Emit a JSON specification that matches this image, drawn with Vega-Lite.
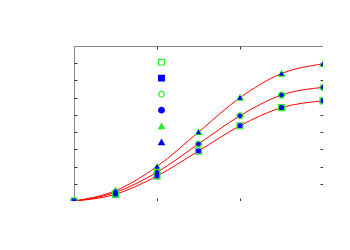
{
  "$schema": "https://vega.github.io/schema/vega-lite/v6.json",
  "autosize": "none",
  "padding": {"left": 74, "top": 46, "right": 0, "bottom": 0},
  "width": 249,
  "height": 155,
  "background": "white",
  "config": {
    "view": {"stroke": "#888888", "strokeWidth": 1},
    "axis": {"labels": false, "title": null, "domain": false, "grid": false, "tickSize": -3, "tickColor": "#333333", "tickWidth": 1}
  },
  "data": {
    "values": [
      {"s": "A", "x": 0, "v": 0}, {"s": "A", "x": 1, "v": 0.39}, {"s": "A", "x": 2, "v": 1.45}, {"s": "A", "x": 3, "v": 2.9}, {"s": "A", "x": 4, "v": 4.37}, {"s": "A", "x": 5, "v": 5.42}, {"s": "A", "x": 6, "v": 5.81},
      {"s": "C", "x": 0, "v": 0}, {"s": "C", "x": 1, "v": 0.5}, {"s": "C", "x": 2, "v": 1.67}, {"s": "C", "x": 3, "v": 3.31}, {"s": "C", "x": 4, "v": 4.95}, {"s": "C", "x": 5, "v": 6.15}, {"s": "C", "x": 6, "v": 6.6},
      {"s": "E", "x": 0, "v": 0}, {"s": "E", "x": 1, "v": 0.6}, {"s": "E", "x": 2, "v": 2.0}, {"s": "E", "x": 3, "v": 4.0}, {"s": "E", "x": 4, "v": 6.0}, {"s": "E", "x": 5, "v": 7.4}, {"s": "E", "x": 6, "v": 7.96},
      {"s": "B", "x": 0, "v": 0}, {"s": "B", "x": 1, "v": 0.39}, {"s": "B", "x": 2, "v": 1.45}, {"s": "B", "x": 3, "v": 2.9}, {"s": "B", "x": 4, "v": 4.37}, {"s": "B", "x": 5, "v": 5.42}, {"s": "B", "x": 6, "v": 5.81},
      {"s": "D", "x": 0, "v": 0}, {"s": "D", "x": 1, "v": 0.5}, {"s": "D", "x": 2, "v": 1.67}, {"s": "D", "x": 3, "v": 3.31}, {"s": "D", "x": 4, "v": 4.95}, {"s": "D", "x": 5, "v": 6.15}, {"s": "D", "x": 6, "v": 6.6},
      {"s": "F", "x": 0, "v": 0}, {"s": "F", "x": 1, "v": 0.6}, {"s": "F", "x": 2, "v": 2.0}, {"s": "F", "x": 3, "v": 4.0}, {"s": "F", "x": 4, "v": 6.0}, {"s": "F", "x": 5, "v": 7.4}, {"s": "F", "x": 6, "v": 7.96}
    ]
  },
  "resolve": {"axis": {"x": "independent", "y": "independent"}},
  "encoding": {
    "shape": {"field": "s", "type": "nominal", "scale": {"domain": ["A", "B", "C", "D", "E", "F"], "range": ["square", "square", "circle", "circle", "triangle-up", "triangle-up"]},
      "legend": {"orient": "none", "legendX": 82.5, "legendY": 8.5, "title": null, "labelExpr": "''", "padding": 0, "clipHeight": 15.3, "rowPadding": 0, "symbolStrokeWidth": 1.2, "symbolSize": 32, "symbolOpacity": 1}},
    "stroke": {"field": "s", "type": "nominal", "scale": {"domain": ["A", "B", "C", "D", "E", "F"], "range": ["#22ee22", "#0000ff", "#22ee22", "#0000ff", "#22ee22", "#0000ff"]},
      "legend": {"orient": "none", "legendX": 82.5, "legendY": 8.5, "title": null, "labelExpr": "''", "padding": 0, "clipHeight": 15.3, "rowPadding": 0, "symbolStrokeWidth": 1.2, "symbolSize": 32, "symbolOpacity": 1}},
    "fill": {"field": "s", "type": "nominal", "scale": {"domain": ["A", "B", "C", "D", "E", "F"], "range": ["transparent", "#0000ff", "transparent", "#0000ff", "#22ee22", "#0000ff"]},
      "legend": {"orient": "none", "legendX": 82.5, "legendY": 8.5, "title": null, "labelExpr": "''", "padding": 0, "clipHeight": 15.3, "rowPadding": 0, "symbolStrokeWidth": 1.2, "symbolSize": 32, "symbolOpacity": 1}}
  },
  "layer": [
    {
      "transform": [{"filter": "datum.s == 'B' || datum.s == 'D' || datum.s == 'F'"}],
      "mark": {"type": "line", "interpolate": "monotone", "color": "#ff0000", "strokeWidth": 1},
      "encoding": {
        "x": {"field": "x", "type": "quantitative", "scale": {"domain": [0, 6], "nice": false}, "axis": {"orient": "bottom", "values": [2, 4]}},
        "y": {"field": "v", "type": "quantitative", "scale": {"domain": [0, 9], "nice": false}, "axis": {"orient": "left", "values": [1, 2, 3, 4, 5, 6, 7, 8]}},
        "detail": {"field": "s"},
        "shape": null,
        "stroke": {"value": "#ff0000"},
        "fill": null
      }
    },
    {
      "transform": [{"filter": "datum.s == 'A' || datum.s == 'C' || datum.s == 'E'"}],
      "mark": {"type": "point", "opacity": 1, "strokeWidth": 1.2, "size": 36, "clip": false},
      "encoding": {
        "x": {"field": "x", "type": "quantitative", "axis": {"orient": "top", "values": [2, 4]}},
        "y": {"field": "v", "type": "quantitative", "axis": {"orient": "right", "values": [1, 2, 3, 4, 5, 6, 7, 8], "domain": true, "domainColor": "#000000", "domainWidth": 1}}
      }
    },
    {
      "transform": [{"filter": "datum.s == 'B' || datum.s == 'D' || datum.s == 'F'"}],
      "mark": {"type": "point", "opacity": 1, "strokeWidth": 1, "size": 14, "clip": false},
      "encoding": {
        "x": {"field": "x", "type": "quantitative", "axis": null},
        "y": {"field": "v", "type": "quantitative", "axis": null}
      }
    }
  ]
}
